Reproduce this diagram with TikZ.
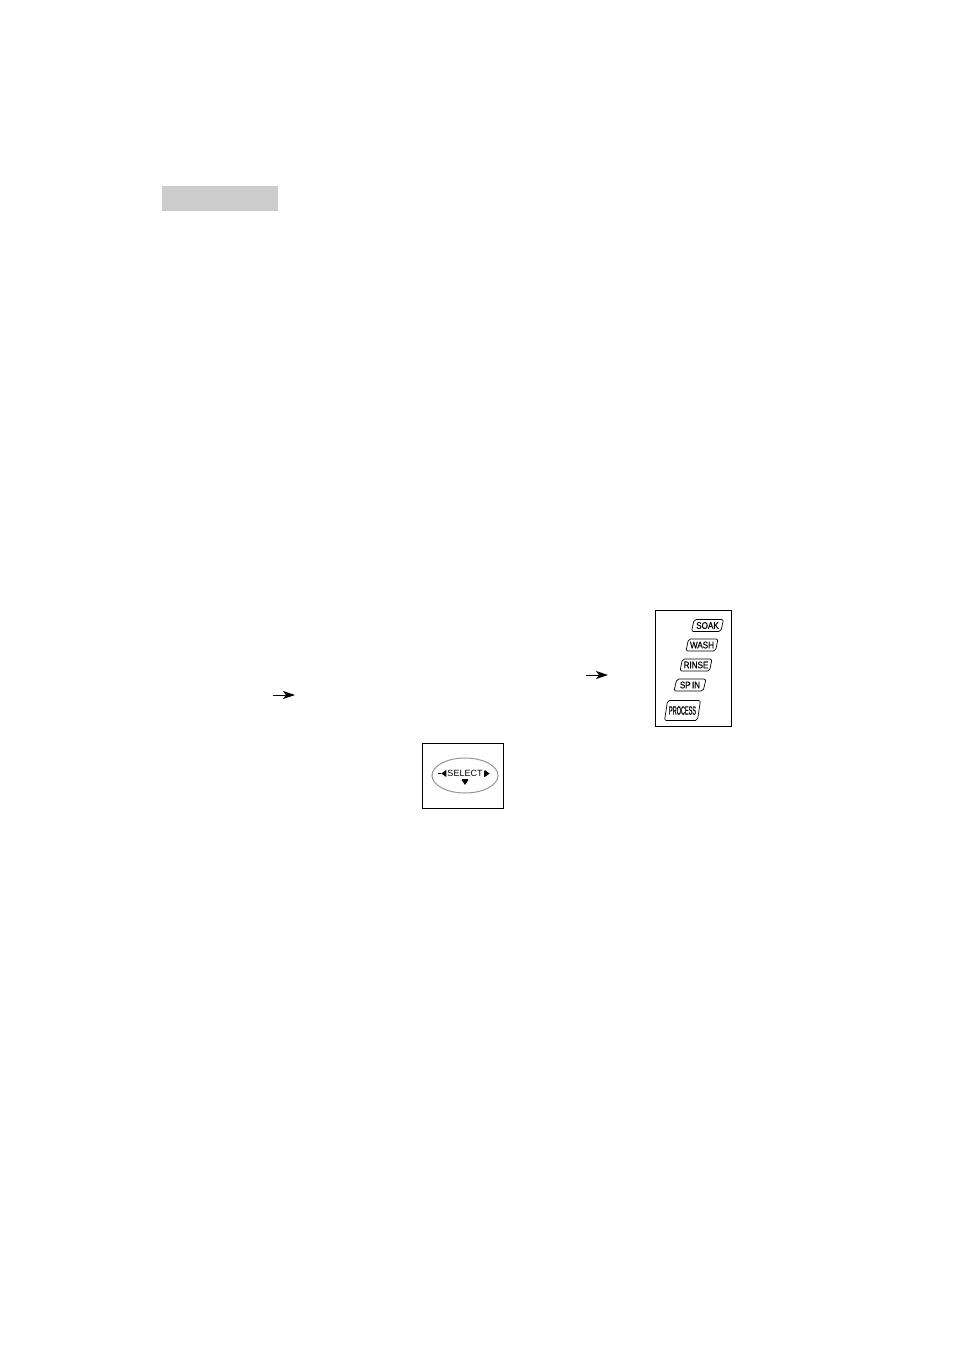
\documentclass[tikz,border=0pt]{standalone}
\usepackage{fontspec}
\usepackage{graphicx}
\setmainfont{Liberation Sans}
\usetikzlibrary{positioning,arrows.meta,shapes.geometric}
\definecolor{bargray}{RGB}{204,204,204}
\definecolor{ringgray}{RGB}{150,150,150}
\newcommand{\narrow}[2]{\scalebox{#1}[1]{#2}}

\begin{document}
\begin{tikzpicture}[x=1pt, y=-1pt,
  key/.style={draw, line width=0.7pt, trapezium, trapezium stretches=true,
    trapezium left angle=72, trapezium right angle=108,
    rounded corners=2pt, inner xsep=0pt, inner ysep=0pt,
    minimum width=32pt, minimum height=12pt,
    font=\fontsize{9.5}{9.5}\selectfont\addfontfeature{FakeBold=0.6}},
  ar/.style={-{Stealth[length=12pt, width=8pt, inset=3pt]}, line width=0.9pt}
]
\useasboundingbox (0,0) rectangle (954,1350);
% heading bar
\fill[bargray] (162,186) rectangle (278,211);
% arrows in the text
\coordinate (a1) at (273,695); \coordinate (b1) at (295,695);
\coordinate (a2) at (586,675); \coordinate (b2) at (608,675);
\draw[ar] (a1) -- (b1);
\draw[ar] (a2) -- (b2);
% program panel
\node[draw, semithick, minimum width=76pt, minimum height=116pt] (panel) at (693,668) {};
\node[key] (soak) at (707.5,625.5) {\narrow{0.85}{SOAK}};
\node[key] (wash) at (702,645) {\narrow{0.85}{WASH}};
\node[key] (rinse) at (696,665) {\narrow{0.85}{RINSE}};
\node[key] (spin) at (690,685) {\narrow{0.85}{SP\,IN}};
\node[key, minimum width=36pt, minimum height=20pt, font=\fontsize{12}{12}\selectfont\addfontfeature{FakeBold=0.6}] (proc) at (682.5,710.5) {\narrow{0.46}{PROCESS}};
% select button
\node[draw, semithick, minimum width=81pt, minimum height=65pt] (selbox) at (462.5,775.5) {};
\node[draw=ringgray, line width=1pt, ellipse, minimum width=66pt, minimum height=35pt] (ring) at (465,775.5) {};
\node[font=\fontsize{9}{9}\selectfont, inner sep=0pt] (sel) at (465,773.5) {SELECT};
\fill ([xshift=-1pt]sel.west) -- ++(0,-3.5) -- ++(-5,3.5) -- ++(5,3.5) -- cycle;
\draw[semithick] ([xshift=-6pt]sel.west) -- ++(-3,0);
\fill ([xshift=2pt]sel.east) -- ++(0,-3.5) -- ++(5,3.5) -- ++(-5,3.5) -- cycle;
\draw[semithick] ([xshift=1.5pt]sel.east) ++(0,-3) -- ++(0,6);
\fill ([yshift=-3pt]sel.south) ++(-3.5,0) -- ++(7,0) -- ++(-3.5,5) -- cycle;
\draw[semithick] ([yshift=-2.5pt]sel.south) ++(-3,0) -- ++(6,0);
\end{tikzpicture}
\end{document}
